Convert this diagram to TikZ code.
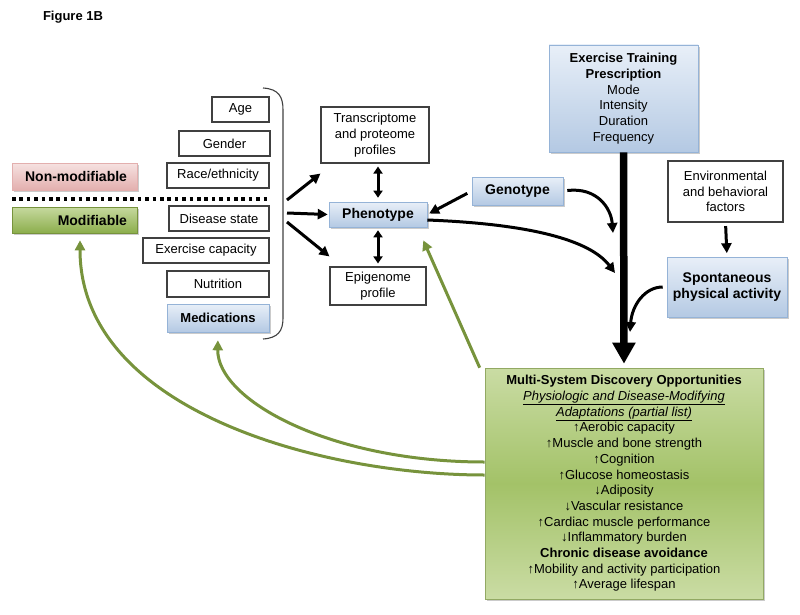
\documentclass[tikz,border=0pt]{standalone}
\usepackage{fontspec}
\setmainfont{Liberation Sans}
\usetikzlibrary{arrows.meta,shadows,calc}
\definecolor{gline}{HTML}{77933C}
\definecolor{bdraw}{HTML}{95B3D7}
\definecolor{btop}{HTML}{E8EFF8}
\definecolor{bbot}{HTML}{B4C9E3}
\definecolor{ptop}{HTML}{F6E2E1}
\definecolor{pbot}{HTML}{E3AFAE}
\definecolor{mtop}{HTML}{C6D99F}
\definecolor{mbot}{HTML}{8CAE4C}
\definecolor{gtop}{HTML}{CADCA4}
\definecolor{gmid}{HTML}{A3C268}
\begin{document}
\begin{tikzpicture}[x=1pt,y=-1pt,
  every node/.style={font=\fontsize{13}{15.7}\selectfont, inner sep=0pt, align=center},
  wbox/.style={draw=black!75, line width=1.1pt, fill=white},
  shad/.style={drop shadow={shadow xshift=1.5pt,shadow yshift=-2pt,fill=black!45,opacity=.45}},
  bbox/.style={draw=bdraw, line width=0.6pt, top color=btop, bottom color=bbot, shad,
    font=\fontsize{14}{15.7}\selectfont\bfseries},
  pbox/.style={draw=pbot, line width=0.6pt, top color=ptop, bottom color=pbot, shad,
    font=\fontsize{14}{15.7}\selectfont\bfseries, align=right, text width=105pt, inner xsep=10pt},
  mbox/.style={draw=gline, line width=0.6pt, top color=mtop, bottom color=mbot, shad,
    font=\fontsize{14}{15.7}\selectfont\bfseries, align=right, text width=105pt, inner xsep=10pt},
  gbox/.style={draw=gline!80, line width=0.6pt, top color=gtop, bottom color=gtop, middle color=gmid, shad},
  blk/.style={line width=3pt, -{Triangle[length=10pt,width=10pt]}},
  dbl/.style={line width=3pt, {Triangle[length=7pt,width=9pt]}-{Triangle[length=7pt,width=9pt]}},
  grn/.style={draw=gline, line width=3pt, -{Triangle[length=10pt,width=10pt]}},
  thick arrow/.style={line width=7.5pt, -{Triangle[length=21pt,width=22pt]}},
  dotline/.style={line width=3.5pt, dash pattern=on 3.5pt off 3.9pt}
]
\useasboundingbox (0,0) rectangle (800,615);

\node[font=\fontsize{13}{15}\selectfont\bfseries] (fig) at (73,17) {Figure 1B};

% left labels
\node[pbox, minimum height=27pt] (nonmod) at (74.5,176.5) {Non-modifiable};
\node[mbox, minimum height=26pt] (mod) at (74.5,220) {Modifiable};
\draw[dotline] (12,199) -- (270,199);

% factor boxes
\node[wbox, minimum width=57pt, minimum height=25pt] (age) at (240.5,109.5) {Age};
\node[wbox, minimum width=91pt, minimum height=25pt] (gender) at (224.5,143.5) {Gender};
\node[wbox, minimum width=102pt, minimum height=25pt] (race) at (218,175.5) {Race/ethnicity};
\node[wbox, minimum width=100pt, minimum height=25pt] (disease) at (219,218.5) {Disease state};
\node[wbox, minimum width=126pt, minimum height=25pt] (excap) at (206,250.5) {Exercise capacity};
\node[wbox, minimum width=102pt, minimum height=26pt] (nutr) at (218,284) {Nutrition};
\node[bbox, minimum width=102pt, minimum height=28pt, font=\fontsize{13}{15.7}\selectfont\bfseries] (med) at (218,318) {Medications};

% bracket
\draw[black!75, line width=1.1pt] (263,88) .. controls (279,89) and (283,97) .. (283,110) -- (283,318)
  .. controls (283,331) and (278,338) .. (263,339);
\coordinate (b1) at (287,200);
\coordinate (b2) at (287,213);
\coordinate (b3) at (287,222);

% omics
\node[wbox, minimum width=108pt, minimum height=56pt] (trans) at (375,135) {Transcriptome\\and proteome\\profiles};
\node[bbox, minimum width=98pt, minimum height=25pt] (pheno) at (378,214.5) {Phenotype};
\node[wbox, minimum width=96pt, minimum height=38pt] (epi) at (378,286) {Epigenome\\profile};
\node[bbox, minimum width=91pt, minimum height=28pt] (geno) at (517.5,191) {Genotype};

% right column
\node[bbox, minimum width=149pt, minimum height=107pt, font=\fontsize{13}{15.7}\selectfont] (ex) at (623.5,98.5)
  {\textbf{Exercise Training}\\\textbf{Prescription}\\Mode\\Intensity\\Duration\\Frequency};
\node[wbox, minimum width=115pt, minimum height=61pt] (env) at (725.5,191.5) {Environmental\\and behavioral\\factors};
\node[bbox, minimum width=120pt, minimum height=60pt] (spont) at (727,287) {Spontaneous\\physical activity};

% green box
\node[gbox, minimum width=278pt, minimum height=231pt] (green) at (624,483.5)
  {\textbf{Multi-System Discovery Opportunities}\\
   \underline{\textit{Physiologic and Disease-Modifying}}\\
   \underline{\textit{Adaptations (partial list)}}\\
   ↑Aerobic capacity\\
   ↑Muscle and bone strength\\
   ↑Cognition\\
   ↑Glucose homeostasis\\
   ↓Adiposity\\
   ↓Vascular resistance\\
   ↑Cardiac muscle performance\\
   ↓Inflammatory burden\\
   \textbf{Chronic disease avoidance}\\
   ↑Mobility and activity participation\\
   ↑Average lifespan};

% black connectors
\draw[blk] (b1) -- ([yshift=-10pt]trans.south west);
\draw[blk] (b2) -- ([xshift=-1pt]pheno.west);
\draw[blk] (b3) -- ([yshift=10pt]epi.north west);
\draw[dbl] (pheno.north |- trans.south) ++(0,3) -- ([yshift=4pt]pheno.north);
\draw[dbl] ([yshift=-3pt]pheno.south) -- ([yshift=3pt]pheno.south |- epi.north);
\draw[blk, shorten <=5pt, shorten >=2pt] (geno.west) -- (pheno.east);
\draw[thick arrow, shorten >=4pt] (ex.south) -- (green.north);
\draw[blk, shorten <=3.5pt, shorten >=3.5pt] (env.south) -- (spont.north);

\coordinate (t1) at (613,233);
\coordinate (t2) at (615,273);
\coordinate (t3) at (630,332);
\draw[blk, shorten <=4pt] (geno.east) .. controls (597,187) and (611,208) .. (t1);
\draw[blk] ([yshift=-5.5pt]pheno.east) .. controls (530,224) and (590,240) .. (t2);
\draw[blk, shorten <=4pt] (spont.west) .. controls (645,287) and (632,305) .. (t3);

% green connectors
\draw[grn] ([xshift=-5pt]green.north west) -- ([xshift=-4pt,yshift=-13pt]pheno.south east);
\draw[grn, shorten >=8pt] ([yshift=21.5pt]green.west) .. controls (330,462) and (217,400) .. (med.south);
\draw[grn, shorten >=7pt] ([yshift=8.5pt]green.west) .. controls (320,475) and (80,410) .. ([xshift=5.5pt]mod.south);
\end{tikzpicture}
\end{document}
